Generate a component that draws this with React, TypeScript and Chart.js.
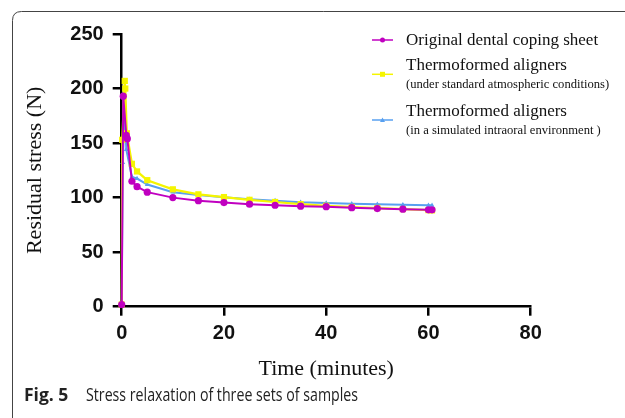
import React, { useEffect, useRef } from "react";
import { Chart, registerables } from "chart.js";

Chart.register(...registerables);

// ---- data ----
const xTickValues = [0, 20, 40, 60, 80];
const yTickValues = [0, 50, 100, 150, 200, 250];

const originalTime = [0, 0.3, 0.9, 1.1, 2, 3, 5, 10, 15, 20, 25, 30, 35, 40, 45, 50, 55, 60, 60.7];
const originalStress = [2, 193, 157, 154, 115, 110, 105, 100, 97.2, 95.5, 94, 93, 92.2, 91.7, 90.8, 90, 89.4, 88.8, 88.8];

const standardTime = [0, 0.1, 0.6, 0.7, 1, 2, 3, 5, 10, 15, 20, 25, 30, 35, 40, 45, 50, 55, 60, 60.7];
const standardStress = [2, 153, 207, 200, 159, 131, 124, 116, 107.6, 103, 100.5, 98, 96, 94, 92.5, 91.4, 90.5, 89.5, 88.5, 88.3];

const intraoralTime = [0, 0.2, 0.6, 0.9, 2, 3, 5, 10, 15, 20, 25, 30, 35, 40, 45, 50, 55, 60, 60.7];
const intraoralStress = [2, 132, 180, 144, 119, 117.5, 112, 105, 102.5, 100.3, 98.5, 97.2, 95.8, 95, 94.4, 93.9, 93.5, 93, 93];

const legendMain = ["Original dental coping sheet", "Thermoformed aligners", "Thermoformed aligners"];
const legendSub = ["", "(under standard atmospheric conditions)", "(in a simulated intraoral environment )"];

const xTitle = "Time (minutes)";
const yTitle = "Residual stress (N)";
const captionBold = "Fig. 5";
const captionText = "Stress relaxation of three sets of samples";

// ---- styles ----
const PURPLE = "#c000c0";
const YELLOW = "#f5f500";
const BLUE = "#58a0f0";
const colors = [PURPLE, YELLOW, BLUE];
const styles = ["circle", "rect", "triangle"];

const zip = (t: number[], v: number[]) => t.map((x, i) => ({ x, y: v[i] }));

function drawMarker(ctx: CanvasRenderingContext2D, style: string, x: number, y: number, r: number, color: string) {
  ctx.fillStyle = color;
  ctx.beginPath();
  if (style === "circle") {
    ctx.arc(x, y, r, 0, Math.PI * 2);
  } else if (style === "rect") {
    ctx.rect(x - r, y - r, 2 * r, 2 * r);
  } else {
    ctx.moveTo(x, y - r);
    ctx.lineTo(x + r, y + r * 0.8);
    ctx.lineTo(x - r, y + r * 0.8);
    ctx.closePath();
  }
  ctx.fill();
}

const framePlugin = {
  id: "frame",
  beforeDraw(chart: any) {
    const ctx: CanvasRenderingContext2D = chart.ctx;
    ctx.save();
    ctx.strokeStyle = "#444";
    ctx.lineWidth = 1;
    ctx.beginPath();
    const x = 12.5, y = 11.5, w = 700, h = 410, r = 9;
    ctx.moveTo(x + r, y);
    ctx.lineTo(x + w, y);
    ctx.moveTo(x, y + h);
    ctx.lineTo(x, y + r);
    ctx.quadraticCurveTo(x, y, x + r, y);
    ctx.stroke();
    // caption
    ctx.fillStyle = "#222";
    ctx.textBaseline = "alphabetic";
    ctx.textAlign = "left";
    ctx.font = "bold 17.5px 'Open Sans'";
    ctx.fillText(captionBold, 24, 401, 48);
    ctx.font = "17.5px 'Open Sans'";
    ctx.fillText(captionText, 86, 401, 272);
    ctx.restore();
  },
};

const legendPlugin = {
  id: "customLegend",
  afterDraw(chart: any) {
    const ctx: CanvasRenderingContext2D = chart.ctx;
    const lineY = [40, 74.3, 120];
    const mainY = [45, 70, 115.7];
    const subY = [0, 88.3, 134];
    const radii = [2.5, 2.5, 2.5];
    ctx.save();
    legendMain.forEach((label, i) => {
      ctx.strokeStyle = colors[i];
      ctx.lineWidth = 1.5;
      ctx.beginPath();
      ctx.moveTo(372, lineY[i]);
      ctx.lineTo(393, lineY[i]);
      ctx.stroke();
      drawMarker(ctx, styles[i], 382.5, lineY[i], radii[i], colors[i]);
      ctx.fillStyle = "#111";
      ctx.textAlign = "left";
      ctx.textBaseline = "alphabetic";
      ctx.font = "17px 'Liberation Serif'";
      ctx.fillText(label, 406, mainY[i]);
      if (legendSub[i]) {
        ctx.font = "12.6px 'Liberation Serif'";
        ctx.fillText(legendSub[i], 406, subY[i]);
      }
    });
    ctx.restore();
  },
};

export default function App() {
  const canvasRef = useRef<HTMLCanvasElement | null>(null);

  useEffect(() => {
    if (!canvasRef.current) return;
    const tickFont = { family: "'Liberation Sans', Arial", size: 20, weight: "bold" as const };
    const chart = new Chart(canvasRef.current, {
      type: "line",
      data: {
        datasets: [
          {
            label: legendMain[0],
            data: zip(originalTime, originalStress),
            borderColor: PURPLE,
            backgroundColor: PURPLE,
            borderWidth: 2,
            pointStyle: "circle",
            pointRadius: 3.6,
            pointBorderWidth: 0,
            tension: 0,
            clip: false,
          },
          {
            label: legendMain[1] + " " + legendSub[1],
            data: zip(standardTime, standardStress),
            borderColor: YELLOW,
            backgroundColor: YELLOW,
            borderWidth: 2.2,
            pointStyle: "rect",
            pointRadius: 4.4,
            pointBorderWidth: 0,
            tension: 0,
            clip: false,
          },
          {
            label: legendMain[2] + " " + legendSub[2],
            data: zip(intraoralTime, intraoralStress),
            borderColor: BLUE,
            backgroundColor: BLUE,
            borderWidth: 2,
            pointStyle: "triangle",
            pointRadius: 2.8,
            pointBorderWidth: 0,
            tension: 0,
            clip: false,
          },
        ],
      },
      options: {
        animation: false,
        responsive: true,
        maintainAspectRatio: false,
        layout: { padding: { left: 0, top: 34, right: 94.3, bottom: 31.3 } },
        plugins: { legend: { display: false }, tooltip: { enabled: false } },
        scales: {
          x: {
            type: "linear",
            min: 0,
            max: 80,
            afterFit: (s: any) => {
              s.height = 80;
            },
            afterBuildTicks: (s: any) => {
              s.ticks = xTickValues.map((v) => ({ value: v }));
            },
            ticks: { font: tickFont, color: "#111", padding: 6 },
            grid: { drawOnChartArea: false, drawTicks: true, tickLength: 9, color: "#000", lineWidth: 2.5 },
            border: { display: true, color: "#000", width: 2.5 },
            title: {
              display: true,
              text: xTitle,
              color: "#111",
              font: { family: "'Liberation Serif'", size: 22 },
              padding: { top: 0, bottom: 4 },
            },
          },
          y: {
            type: "linear",
            min: 0,
            max: 250,
            afterFit: (s: any) => {
              s.width = 121.7;
            },
            afterBuildTicks: (s: any) => {
              s.ticks = yTickValues.map((v) => ({ value: v }));
            },
            ticks: { font: tickFont, color: "#111", padding: 9 },
            grid: { drawOnChartArea: false, drawTicks: true, tickLength: 9, color: "#000", lineWidth: 2.5 },
            border: { display: true, color: "#000", width: 2.5 },
            title: {
              display: true,
              text: yTitle,
              color: "#111",
              font: { family: "'Liberation Serif'", size: 22 },
              padding: { top: 22.4, bottom: 0 },
            },
          },
        },
      },
      plugins: [framePlugin, legendPlugin],
    });
    return () => chart.destroy();
  }, []);

  return (
    <div style={{ position: "fixed", left: 0, top: 0, width: 625, height: 418, background: "#fff" }}>
      <canvas ref={canvasRef} />
    </div>
  );
}
